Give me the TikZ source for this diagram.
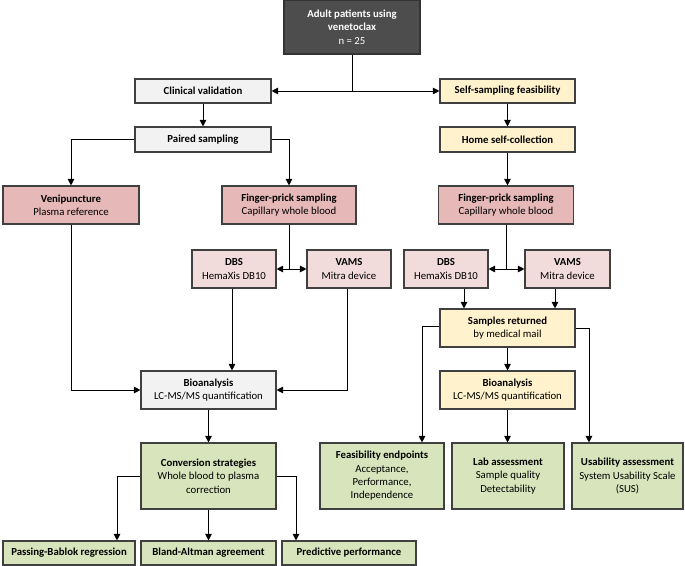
\documentclass[tikz,border=0pt]{standalone}
\usepackage{fontspec}
\setmainfont{Carlito}
\usetikzlibrary{arrows.meta}
\definecolor{bordc}{HTML}{404040}
\definecolor{topc}{HTML}{4D4D4D}
\definecolor{grayc}{HTML}{F2F2F2}
\definecolor{yelc}{HTML}{FFF2CC}
\definecolor{pinkd}{HTML}{E6B8B7}
\definecolor{pinkl}{HTML}{F2DCDB}
\definecolor{greenc}{HTML}{D8E4BC}
\begin{document}
\begin{tikzpicture}[x=1bp,y=-1bp,
  box/.style={draw=bordc, line width=1.1bp, inner sep=0pt, align=center,
    font=\fontsize{10.8}{13.4}\selectfont, text=black},
  graybox/.style={box, fill=grayc},
  yelbox/.style={box, fill=yelc},
  pinkdbox/.style={box, fill=pinkd},
  pinklbox/.style={box, fill=pinkl},
  greenbox/.style={box, fill=greenc},
  arr/.style={-{Triangle[length=6.5bp,width=6.5bp]}, line width=0.9bp, draw=black},
  ln/.style={line width=0.9bp, draw=black}]
\useasboundingbox (0,0) rectangle (685,566);

% top
\node[box, fill=topc, draw=black!80, text=white, minimum width=136bp, minimum height=54bp] (top) at (352,27)
  {\textbf{Adult patients using}\\\textbf{venetoclax}\\n = 25};

% second row
\node[graybox, minimum width=136bp, minimum height=24bp] (clin) at (203,91) {\textbf{Clinical validation}};
\node[yelbox, minimum width=135bp, minimum height=24bp] (self) at (507.5,91) {\textbf{Self-sampling feasibility}};

\node[graybox, minimum width=136bp, minimum height=25bp] (paired) at (203,139.5) {\textbf{Paired sampling}};
\node[yelbox, minimum width=135bp, minimum height=25bp] (home) at (507.5,139.5) {\textbf{Home self-collection}};

% sampling
\node[pinkdbox, minimum width=136bp, minimum height=38bp] (veni) at (71,205) {\textbf{Venipuncture}\\Plasma reference};
\node[pinkdbox, minimum width=134bp, minimum height=38bp] (fpL) at (289,205) {\textbf{Finger-prick sampling}\\Capillary whole blood};
\node[pinkdbox, minimum width=135bp, minimum height=38bp] (fpR) at (506,205) {\textbf{Finger-prick sampling}\\Capillary whole blood};

\node[pinklbox, minimum width=84bp, minimum height=38bp] (dbsL) at (234,269) {\textbf{DBS}\\HemaXis DB10};
\node[pinklbox, minimum width=84bp, minimum height=38bp] (vamsL) at (349,269) {\textbf{VAMS}\\Mitra device};
\node[pinklbox, minimum width=84bp, minimum height=38bp] (dbsR) at (446,269) {\textbf{DBS}\\HemaXis DB10};
\node[pinklbox, minimum width=85bp, minimum height=38bp] (vamsR) at (567.5,269) {\textbf{VAMS}\\Mitra device};

% right: samples returned
\node[yelbox, minimum width=135bp, minimum height=38bp] (samples) at (507.5,328) {\textbf{Samples returned}\\by medical mail};

% bioanalysis
\node[graybox, minimum width=135bp, minimum height=38bp] (bioL) at (208.5,390) {\textbf{Bioanalysis}\\LC-MS/MS quantification};
\node[yelbox, minimum width=135bp, minimum height=38bp] (bioR) at (507.5,390) {\textbf{Bioanalysis}\\LC-MS/MS quantification};

% green row
\node[greenbox, minimum width=135bp, minimum height=66bp] (conv) at (208.5,476) {\textbf{Conversion strategies}\\Whole blood to plasma\\correction};
\node[greenbox, minimum width=124bp, minimum height=66bp] (feas) at (382,476) {\textbf{Feasibility endpoints}\\Acceptance,\\Performance,\\Independence};
\node[greenbox, minimum width=112bp, minimum height=66bp] (lab) at (508,476) {\textbf{Lab assessment}\\Sample quality\\Detectability};
\node[greenbox, minimum width=111bp, minimum height=66bp] (usab) at (627.5,476) {\textbf{Usability assessment}\\System Usability Scale\\(SUS)};

\node[greenbox, minimum width=132bp, minimum height=24bp] (pb) at (69,553) {\textbf{Passing-Bablok regression}};
\node[greenbox, minimum width=135bp, minimum height=24bp] (ba) at (208.5,553) {\textbf{Bland-Altman agreement}};
\node[greenbox, minimum width=134bp, minimum height=24bp] (pp) at (349,553) {\textbf{Predictive performance}};

% connectors
\coordinate (j1) at (top.south |- clin.east);
\draw[ln] (top.south) -- (j1);
\draw[arr] (j1) -- (clin.east);
\draw[arr] (j1) -- (self.west);

\draw[arr] (clin.south) -- (paired.north);
\draw[arr] (self.south) -- (home.north);

\draw[arr] (paired.west) -| (veni.north);
\draw[arr] (paired.east) -| (fpL.north);
\draw[arr] (home.south) -- (home.south |- fpR.north);

\coordinate (jL) at (fpL.south |- dbsL.east);
\draw[ln] (fpL.south) -- (jL);
\draw[arr] (jL) -- (dbsL.east);
\draw[arr] (jL) -- (vamsL.west);

\coordinate (jR) at (fpR.south |- dbsR.east);
\draw[ln] (fpR.south) -- (jR);
\draw[arr] (jR) -- (dbsR.east);
\draw[arr] (jR) -- (vamsR.west);

\draw[arr] ([xshift=-2bp]dbsL.south) -- ([xshift=-2bp]dbsL.south |- bioL.north);
\draw[arr] (veni.south) |- (bioL.west);
\draw[arr] ([xshift=-2bp]vamsL.south) |- (bioL.east);
\draw[arr] (bioL.south) -- (conv.north);

\draw[arr] (conv.west) -| ([xshift=48bp]pb.north);
\draw[arr] (conv.south) -- (ba.north);
\draw[arr] (conv.east) -| ([xshift=-53bp]pp.north);

\draw[arr] ([xshift=18bp]dbsR.south) -- ([xshift=18bp]dbsR.south |- samples.north);
\draw[arr] ([xshift=-12.5bp]vamsR.south) -- ([xshift=-12.5bp]vamsR.south |- samples.north);

\draw[arr] ([yshift=2bp]samples.west) -| ([xshift=40bp]feas.north);
\draw[arr] (samples.east) -| ([xshift=-38.5bp]usab.north);
\draw[arr] (samples.south) -- (bioR.north);
\draw[arr] (bioR.south) -- (bioR.south |- lab.north);
\end{tikzpicture}
\end{document}
